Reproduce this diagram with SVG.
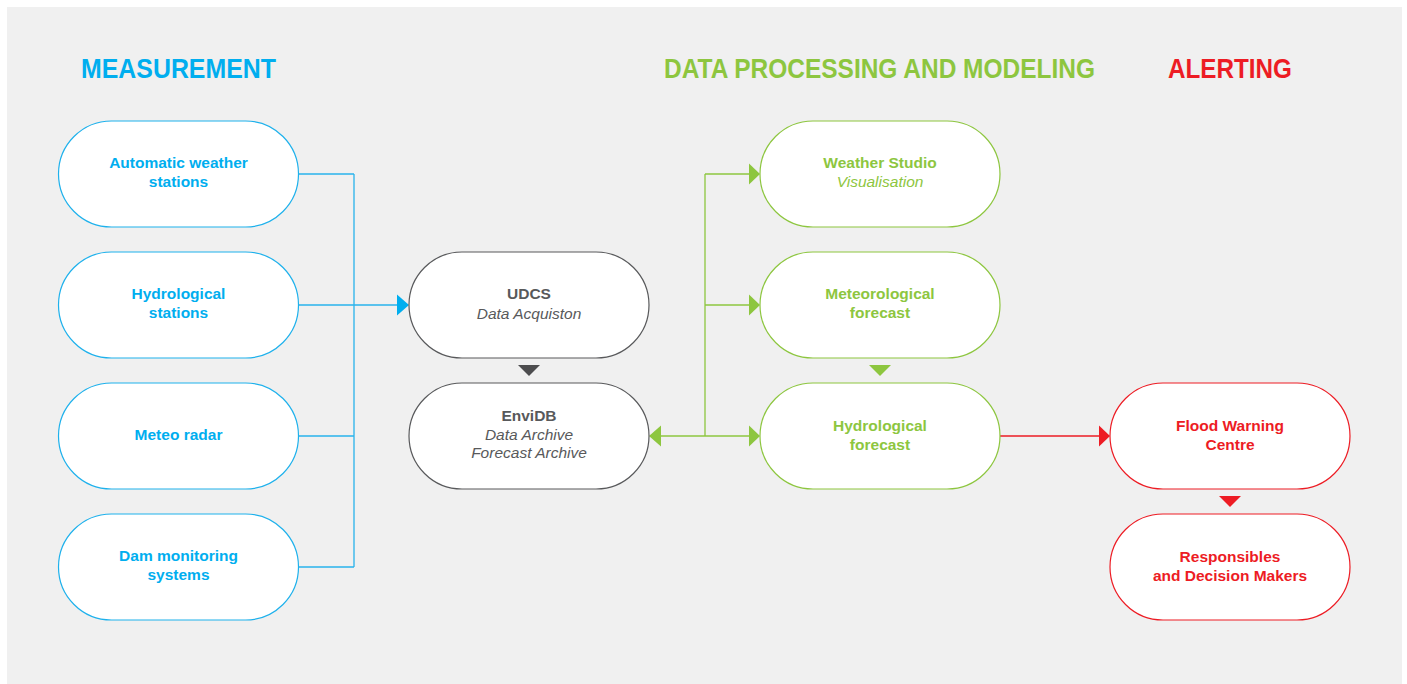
<svg xmlns="http://www.w3.org/2000/svg" width="1407" height="684" viewBox="0 0 1407 684">
<style>
.bg{fill:#f0f0f0}
.node{fill:#fff;stroke-width:1.2}
.blue .node{stroke:#1eb1ec}
.gray .node{stroke:#58595b}
.green .node{stroke:#8dc63f}
.red .node{stroke:#ed1c24}
text{font-family:"Liberation Sans",Arial,sans-serif;text-anchor:middle}
.t{font-weight:bold;font-size:15.5px}
.i{font-style:italic;font-size:15.5px}
.blue text{fill:#00aeef}
.gray text{fill:#58595b}
.green text{fill:#8dc63f}
.red text{fill:#ed1c24}
.h{font-weight:bold;font-size:28px;text-anchor:start}
.lb{fill:none;stroke:#29b3ec;stroke-width:1.3}
.lg{fill:none;stroke:#8dc63f;stroke-width:1.3}
.lr{fill:none;stroke:#ed1c24;stroke-width:1.3}
.ab{fill:#00aeef}
.ag{fill:#8dc63f}
.ar{fill:#ed1c24}
.ak{fill:#4d4d4f}
</style>
<rect class="bg" x="7" y="7" width="1395" height="677"/>
<g id="headers">
<text class="h" x="81" y="78" fill="#00aeef" textLength="195" lengthAdjust="spacingAndGlyphs">MEASUREMENT</text>
<text class="h" x="664" y="78" fill="#8dc63f" textLength="431" lengthAdjust="spacingAndGlyphs">DATA PROCESSING AND MODELING</text>
<text class="h" x="1168" y="78" fill="#ed1c24" textLength="124" lengthAdjust="spacingAndGlyphs">ALERTING</text>
</g>
<g id="connectors">
<path class="lb" d="M298,174 H354 M298,305 H398 M298,436 H354 M298,567 H354 M354,174 V567"/>
<polygon class="ab" points="397,294.5 409,305 397,315.5"/>
<path class="lg" d="M705,174 V436 M705,174 H749 M705,305 H749 M660,436 H749"/>
<polygon class="ag" points="749,163.5 760,174 749,184.5"/>
<polygon class="ag" points="749,294.5 760,305 749,315.5"/>
<polygon class="ag" points="749,425.5 760,436 749,446.5"/>
<polygon class="ag" points="661,425.5 649,436 661,446.5"/>
<path class="lr" d="M1000,436 H1099"/>
<polygon class="ar" points="1099,425.5 1110,436 1099,446.5"/>
<polygon class="ak" points="518,365 540,365 529,376"/>
<polygon class="ag" points="869,365 891,365 880,376"/>
<polygon class="ar" points="1219,496 1241,496 1230,507"/>
</g>
<g id="aws" class="blue"><rect class="node" x="58.5" y="121" width="240" height="106" rx="53"/><text class="t" x="178.5" y="168">Automatic weather</text><text class="t" x="178.5" y="187">stations</text></g>
<g id="hydro-stations" class="blue"><rect class="node" x="58.5" y="252" width="240" height="106" rx="53"/><text class="t" x="178.5" y="299">Hydrological</text><text class="t" x="178.5" y="318">stations</text></g>
<g id="radar" class="blue"><rect class="node" x="58.5" y="383" width="240" height="106" rx="53"/><text class="t" x="178.5" y="440">Meteo radar</text></g>
<g id="dam" class="blue"><rect class="node" x="58.5" y="514" width="240" height="106" rx="53"/><text class="t" x="178.5" y="561">Dam monitoring</text><text class="t" x="178.5" y="580">systems</text></g>
<g id="udcs" class="gray"><rect class="node" x="409" y="252" width="240" height="106" rx="53"/><text class="t" x="529" y="299">UDCS</text><text class="i" x="529" y="319">Data Acquiston</text></g>
<g id="envidb" class="gray"><rect class="node" x="409" y="383" width="240" height="106" rx="53"/><text class="t" x="529" y="421">EnviDB</text><text class="i" x="529" y="440">Data Archive</text><text class="i" x="529" y="458">Forecast Archive</text></g>
<g id="weather-studio" class="green"><rect class="node" x="760" y="121" width="240" height="106" rx="53"/><text class="t" x="880" y="168">Weather Studio</text><text class="i" x="880" y="187">Visualisation</text></g>
<g id="met-forecast" class="green"><rect class="node" x="760" y="252" width="240" height="106" rx="53"/><text class="t" x="880" y="299">Meteorological</text><text class="t" x="880" y="318">forecast</text></g>
<g id="hydro-forecast" class="green"><rect class="node" x="760" y="383" width="240" height="106" rx="53"/><text class="t" x="880" y="431">Hydrological</text><text class="t" x="880" y="450">forecast</text></g>
<g id="flood-warning" class="red"><rect class="node" x="1110" y="383" width="240" height="106" rx="53"/><text class="t" x="1230" y="431">Flood Warning</text><text class="t" x="1230" y="450">Centre</text></g>
<g id="responsibles" class="red"><rect class="node" x="1110" y="514" width="240" height="106" rx="53"/><text class="t" x="1230" y="562">Responsibles</text><text class="t" x="1230" y="581">and Decision Makers</text></g>
</svg>
